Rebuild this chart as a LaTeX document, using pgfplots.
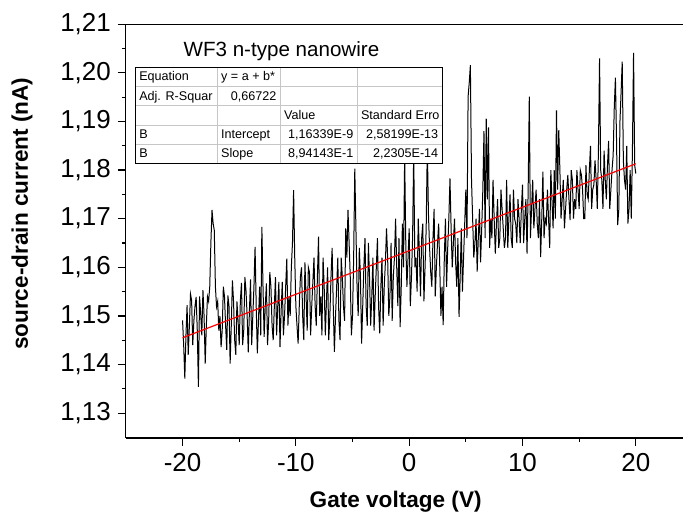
\documentclass[border=0pt]{standalone}
\usepackage{fontspec}
\setmainfont{Liberation Sans}
\usepackage{pgfplots}
\pgfplotsset{compat=1.18}

\begin{document}
\begin{tikzpicture}
\begin{axis}[
  at={(0,0)}, anchor=south west,
  width=279pt, height=207pt, scale only axis,
  xmin=-25, xmax=24.2, ymin=1.1249, ymax=1.21,
  axis lines*=left,
  axis line style={line width=0.6pt},
  xtick={-20,-10,0,10,20},
  ytick={1.13,1.14,1.15,1.16,1.17,1.18,1.19,1.20,1.21},
  minor x tick num=1, minor y tick num=1,
  tick align=outside,
  major tick length=4pt, minor tick length=2pt,
  tick style={black, line width=0.6pt},
  tick label style={font=\fontsize{13}{15}\selectfont},
  /pgf/number format/assume math mode=true,
  yticklabel style={/pgf/number format/.cd, fixed, fixed zerofill, precision=2, use comma},
  scaled y ticks=false,
]
% measured trace
\addplot[black, line width=0.5pt] coordinates {
(-20.0,1.1491) (-19.9,1.1440) (-19.8,1.1371) (-19.7,1.1460) (-19.6,1.1522)
(-19.5,1.1420) (-19.4,1.1478) (-19.3,1.1545) (-19.2,1.1532) (-19.1,1.1440)
(-19.0,1.1490) (-18.9,1.1520) (-18.8,1.1539) (-18.7,1.1470) (-18.6,1.1354)
(-18.5,1.1540) (-18.4,1.1505) (-18.3,1.1460) (-18.2,1.1553) (-18.1,1.1500)
(-18.0,1.1402) (-17.9,1.1480) (-17.8,1.1540) (-17.7,1.1530) (-17.6,1.1560)
(-17.5,1.1650) (-17.4,1.1718) (-17.3,1.1690) (-17.2,1.1676) (-17.1,1.1560)
(-17.0,1.1519) (-16.9,1.1530) (-16.8,1.1470) (-16.7,1.1500) (-16.6,1.1436)
(-16.5,1.1470) (-16.4,1.1560) (-16.3,1.1540) (-16.2,1.1480) (-16.1,1.1430)
(-16.0,1.1542) (-15.9,1.1520) (-15.8,1.1402) (-15.7,1.1480) (-15.6,1.1573)
(-15.5,1.1530) (-15.4,1.1450) (-15.3,1.1420) (-15.2,1.1530) (-15.1,1.1490)
(-15.0,1.1440) (-14.9,1.1530) (-14.8,1.1568) (-14.7,1.1440) (-14.6,1.1470)
(-14.5,1.1580) (-14.4,1.1552) (-14.3,1.1500) (-14.2,1.1425) (-14.1,1.1510)
(-14.0,1.1575) (-13.9,1.1440) (-13.8,1.1500) (-13.7,1.1560) (-13.6,1.1642)
(-13.5,1.1520) (-13.4,1.1423) (-13.3,1.1490) (-13.2,1.1560) (-13.1,1.1460)
(-13.0,1.1683) (-12.9,1.1560) (-12.8,1.1457) (-12.7,1.1520) (-12.6,1.1567)
(-12.5,1.1440) (-12.4,1.1490) (-12.3,1.1590) (-12.2,1.1560) (-12.1,1.1480)
(-12.0,1.1450) (-11.9,1.1520) (-11.8,1.1580) (-11.7,1.1460) (-11.6,1.1520)
(-11.5,1.1570) (-11.4,1.1436) (-11.3,1.1510) (-11.2,1.1570) (-11.1,1.1460)
(-11.0,1.1500) (-10.9,1.1560) (-10.8,1.1618) (-10.7,1.1480) (-10.6,1.1540)
(-10.5,1.1500) (-10.4,1.1600) (-10.3,1.1650) (-10.2,1.1759) (-10.1,1.1620)
(-10.0,1.1520) (-9.9,1.1480) (-9.8,1.1443) (-9.7,1.1520) (-9.6,1.1580)
(-9.5,1.1600) (-9.4,1.1500) (-9.3,1.1450) (-9.2,1.1610) (-9.1,1.1540)
(-9.0,1.1470) (-8.9,1.1600) (-8.8,1.1590) (-8.7,1.1460) (-8.6,1.1520)
(-8.5,1.1570) (-8.4,1.1620) (-8.3,1.1520) (-8.2,1.1480) (-8.1,1.1580)
(-8.0,1.1663) (-7.9,1.1500) (-7.8,1.1540) (-7.7,1.1460) (-7.6,1.1620)
(-7.5,1.1560) (-7.4,1.1460) (-7.3,1.1530) (-7.2,1.1600) (-7.1,1.1450)
(-7.0,1.1500) (-6.9,1.1580) (-6.8,1.1640) (-6.7,1.1520) (-6.6,1.1426)
(-6.5,1.1500) (-6.4,1.1560) (-6.3,1.1620) (-6.2,1.1490) (-6.1,1.1450)
(-6.0,1.1620) (-5.9,1.1580) (-5.8,1.1520) (-5.7,1.1490) (-5.6,1.1680)
(-5.5,1.1620) (-5.4,1.1718) (-5.3,1.1650) (-5.2,1.1580) (-5.1,1.1460)
(-5.0,1.1500) (-4.9,1.1620) (-4.8,1.1803) (-4.7,1.1680) (-4.6,1.1560)
(-4.5,1.1500) (-4.4,1.1640) (-4.3,1.1580) (-4.2,1.1443) (-4.1,1.1520)
(-4.0,1.1600) (-3.9,1.1660) (-3.8,1.1520) (-3.7,1.1480) (-3.6,1.1650)
(-3.5,1.1580) (-3.4,1.1480) (-3.3,1.1540) (-3.2,1.1620) (-3.1,1.1470)
(-3.0,1.1540) (-2.9,1.1600) (-2.8,1.1660) (-2.7,1.1520) (-2.6,1.1464)
(-2.5,1.1560) (-2.4,1.1620) (-2.3,1.1480) (-2.2,1.1560) (-2.1,1.1610)
(-2.0,1.1680) (-1.9,1.1620) (-1.8,1.1500) (-1.7,1.1540) (-1.6,1.1650)
(-1.5,1.1490) (-1.4,1.1580) (-1.3,1.1620) (-1.2,1.1700) (-1.1,1.1600)
(-1.0,1.1520) (-0.9,1.1660) (-0.8,1.1477) (-0.7,1.1560) (-0.6,1.1690)
(-0.5,1.1600) (-0.4,1.1830) (-0.3,1.1650) (-0.2,1.1560) (-0.1,1.1620)
(0.0,1.1680) (0.1,1.1520) (0.2,1.1580) (0.3,1.1660) (0.4,1.1840)
(0.5,1.1600) (0.6,1.1620) (0.7,1.1550) (0.8,1.1700) (0.9,1.1630)
(1.0,1.1540) (1.1,1.1660) (1.2,1.1690) (1.3,1.1530) (1.4,1.1600)
(1.5,1.1680) (1.6,1.1850) (1.7,1.1710) (1.8,1.1640) (1.9,1.1590)
(2.0,1.1560) (2.1,1.1660) (2.2,1.1720) (2.3,1.1540) (2.4,1.1600)
(2.5,1.1650) (2.6,1.1690) (2.7,1.1600) (2.8,1.1500) (2.9,1.1560)
(3.0,1.1481) (3.1,1.1620) (3.2,1.1700) (3.3,1.1560) (3.4,1.1640)
(3.5,1.1700) (3.6,1.1783) (3.7,1.1680) (3.8,1.1600) (3.9,1.1650)
(4.0,1.1700) (4.1,1.1610) (4.2,1.1560) (4.3,1.1660) (4.4,1.1498)
(4.5,1.1580) (4.6,1.1680) (4.7,1.1550) (4.8,1.1620) (4.9,1.1690)
(5.0,1.1760) (5.1,1.1660) (5.2,1.1951) (5.3,1.1980) (5.4,1.2016)
(5.5,1.1780) (5.6,1.1700) (5.7,1.1620) (5.8,1.1650) (5.9,1.1700)
(6.0,1.1591) (6.1,1.1660) (6.2,1.1720) (6.3,1.1610) (6.4,1.1680)
(6.5,1.1760) (6.6,1.1880) (6.7,1.1660) (6.8,1.1906) (6.9,1.1740)
(7.0,1.1888) (7.1,1.1640) (7.2,1.1700) (7.3,1.1660) (7.4,1.1780)
(7.5,1.1700) (7.6,1.1628) (7.7,1.1690) (7.8,1.1740) (7.9,1.1640)
(8.0,1.1660) (8.1,1.1760) (8.2,1.1720) (8.3,1.1680) (8.4,1.1640)
(8.5,1.1660) (8.6,1.1780) (8.7,1.1640) (8.8,1.1700) (8.9,1.1750)
(9.0,1.1660) (9.1,1.1640) (9.2,1.1760) (9.3,1.1700) (9.4,1.1690)
(9.5,1.1650) (9.6,1.1740) (9.7,1.1700) (9.8,1.1650) (9.9,1.1720)
(10.0,1.1770) (10.1,1.1650) (10.2,1.1700) (10.3,1.1740) (10.4,1.1628)
(10.5,1.1760) (10.6,1.1951) (10.7,1.1660) (10.8,1.1720) (10.9,1.1780)
(11.0,1.1680) (11.1,1.1720) (11.2,1.1760) (11.3,1.1690) (11.4,1.1660)
(11.5,1.1740) (11.6,1.1621) (11.7,1.1700) (11.8,1.1797) (11.9,1.1660)
(12.0,1.1700) (12.1,1.1690) (12.2,1.1760) (12.3,1.1700) (12.4,1.1640)
(12.5,1.1800) (12.6,1.1740) (12.7,1.1680) (12.8,1.1800) (12.9,1.1700)
(13.0,1.1923) (13.1,1.1760) (13.2,1.1882) (13.3,1.1800) (13.4,1.1700)
(13.5,1.1740) (13.6,1.1780) (13.7,1.1680) (13.8,1.1720) (13.9,1.1760)
(14.0,1.1790) (14.1,1.1740) (14.2,1.1697) (14.3,1.1800) (14.4,1.1780)
(14.5,1.1700) (14.6,1.1740) (14.7,1.1720) (14.8,1.1800) (14.9,1.1760)
(15.0,1.1720) (15.1,1.1800) (15.2,1.1790) (15.3,1.1760) (15.4,1.1700)
(15.5,1.1700) (15.6,1.1810) (15.7,1.1750) (15.8,1.1740) (15.9,1.1800)
(16.0,1.1850) (16.1,1.1720) (16.2,1.1760) (16.3,1.1770) (16.4,1.1820)
(16.5,1.1780) (16.6,1.1720) (16.7,1.1840) (16.8,1.2030) (16.9,1.1800)
(17.0,1.1780) (17.1,1.1720) (17.2,1.1840) (17.3,1.1780) (17.4,1.1740)
(17.5,1.1810) (17.6,1.1860) (17.7,1.1720) (17.8,1.1760) (17.9,1.1800)
(18.0,1.1830) (18.1,1.1930) (18.2,1.1990) (18.3,1.1860) (18.4,1.1687)
(18.5,1.1720) (18.6,1.1900) (18.7,1.1960) (18.8,1.2023) (18.9,1.1820)
(19.0,1.1780) (19.1,1.1760) (19.2,1.1850) (19.3,1.1690) (19.4,1.1720)
(19.5,1.1800) (19.6,1.1700) (19.7,1.1840) (19.8,1.2041) (19.9,1.1810)
(20.0,1.1793)
};
% linear fit
\addplot[red, line width=0.6pt] coordinates {(-20,1.1455) (20,1.1813)};
\end{axis}

\begin{scope}[x=0.5pt, y=-0.5pt, shift={(-63pt,219.15pt)}]
\path[use as bounding box] (0,0) rectangle (684,519);
\draw[line width=0.6pt] (126,24.2) -- (684,24.2);
% fit table
\fill[white] (135.7,67.3) rectangle (442.7,163.3);
\draw[gray!45, line width=0.5pt]
  (135.7,86.7) -- (442.7,86.7) (135.7,106) -- (442.7,106)
  (135.7,125.3) -- (442.7,125.3) (135.7,144.7) -- (442.7,144.7)
  (217.7,67.3) -- (217.7,163.3) (280.7,67.3) -- (280.7,163.3)
  (357.7,67.3) -- (357.7,163.3);
\draw[black, line width=0.6pt] (135.7,67.3) rectangle (442.7,163.3);
\begin{scope}[every node/.style={inner sep=0pt, font=\fontsize{6.3}{7.5}\selectfont}]
\node[anchor=base west] at (139,81) {Equation};
\node[anchor=base west] at (221,81) {y = a + b*};
\node[anchor=base west] at (139,100.4) {Adj. R-Squar};
\node[anchor=base east] at (277,100.4) {0,66722};
\node[anchor=base west] at (284,119.7) {Value};
\node[anchor=base west] at (361,119.7) {Standard Erro};
\node[anchor=base west] at (139,139) {B};
\node[anchor=base west] at (221,139) {Intercept};
\node[anchor=base east] at (354,139) {1,16339E-9};
\node[anchor=base east] at (439,139) {2,58199E-13};
\node[anchor=base west] at (139,158) {B};
\node[anchor=base west] at (221,158) {Slope};
\node[anchor=base east] at (354,158) {8,94143E-1};
\node[anchor=base east] at (439,158) {2,2305E-14};
\end{scope}
\node[anchor=base, font=\fontsize{10.3}{12}\selectfont] at (281.7,56.7) {WF3 n-type nanowire};
% axis titles
\node[rotate=90, font=\bfseries\fontsize{11.3}{13}\selectfont] at (22,214) {source-drain current (nA)};
\node[anchor=base, font=\bfseries\fontsize{11.3}{13}\selectfont] at (396,508) {Gate voltage (V)};
\end{scope}
\end{tikzpicture}
\end{document}
